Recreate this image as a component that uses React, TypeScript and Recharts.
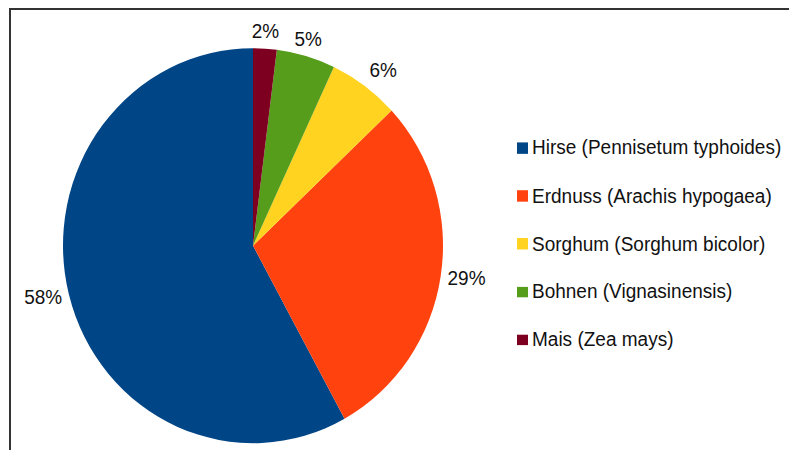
import React from "react";
import { PieChart, Pie, Cell, Legend } from "recharts";

const categories = [
  "Hirse (Pennisetum typhoides)",
  "Erdnuss (Arachis hypogaea)",
  "Sorghum (Sorghum bicolor)",
  "Bohnen (Vignasinensis)",
  "Mais (Zea mays)",
];
const shares = [58, 29, 6, 5, 2];
const colors = ["#004586", "#ff420e", "#ffd320", "#579d1c", "#7e0021"];

const data = categories.map((name, i) => ({ name, value: shares[i] }));

const W = 789;
const H = 450;
const SY = 1.0395; // vertical stretch of the reference
const CH = H / SY;
const FONT = "'Liberation Sans', Arial, sans-serif";
const RADIAN = Math.PI / 180;

const renderLabel = (props: any) => {
  const { cx, cy, midAngle, outerRadius, value } = props;
  const cos = Math.cos(-midAngle * RADIAN);
  const sin = Math.sin(-midAngle * RADIAN);
  const top = sin < -0.3;
  const r = outerRadius + (top ? 8 : 7);
  const x = cx + r * cos;
  let y = cy + r * sin;
  let anchor: "start" | "middle" | "end" = "middle";
  if (Math.abs(cos) >= 0.35) anchor = cos > 0 ? "start" : "end";
  let baseline: any = "central";
  if (top) {
    baseline = "auto";
    y -= 2;
  }
  return (
    <text
      x={x}
      y={y}
      textAnchor={anchor}
      dominantBaseline={baseline}
      fill="#111"
      fontSize={19}
      fontFamily={FONT}
    >
      {`${value}%`}
    </text>
  );
};

const renderLegend = () => (
  <div style={{ fontFamily: FONT, fontSize: 19, color: "#111" }}>
    {data.map((d, i) => (
      <div
        key={d.name}
        style={{ height: 46.2, display: "flex", alignItems: "center", whiteSpace: "nowrap" }}
      >
        <span
          style={{
            display: "inline-block",
            width: 11,
            height: 10.6,
            background: colors[i],
            marginRight: 4,
          }}
        />
        <span>{d.name}</span>
      </div>
    ))}
  </div>
);

export default function App() {
  return (
    <div
      style={{
        position: "absolute",
        left: 0,
        top: 0,
        width: W,
        height: H,
        overflow: "hidden",
        background: "#fff",
      }}
    >
      <div
        style={{
          position: "absolute",
          left: 9,
          top: 8,
          width: 820,
          height: 520,
          border: "2px solid #333",
          boxSizing: "border-box",
        }}
      />
      <div
        style={{
          position: "absolute",
          left: 0,
          top: 0,
          transform: `scaleY(${SY})`,
          transformOrigin: "0 0",
        }}
      >
        <PieChart width={W} height={CH} margin={{ top: 0, right: 0, bottom: 0, left: 0 }}>
          <Pie
            data={data}
            dataKey="value"
            nameKey="name"
            cx={253}
            cy={236.3}
            outerRadius={190}
            startAngle={90}
            endAngle={450}
            stroke="none"
            label={renderLabel}
            labelLine={false}
            isAnimationActive={false}
          >
            {data.map((d, i) => (
              <Cell key={d.name} fill={colors[i]} />
            ))}
          </Pie>
          <Legend
            content={renderLegend}
            wrapperStyle={{ position: "absolute", left: 517, top: 119.3, width: 280 }}
          />
        </PieChart>
      </div>
    </div>
  );
}
